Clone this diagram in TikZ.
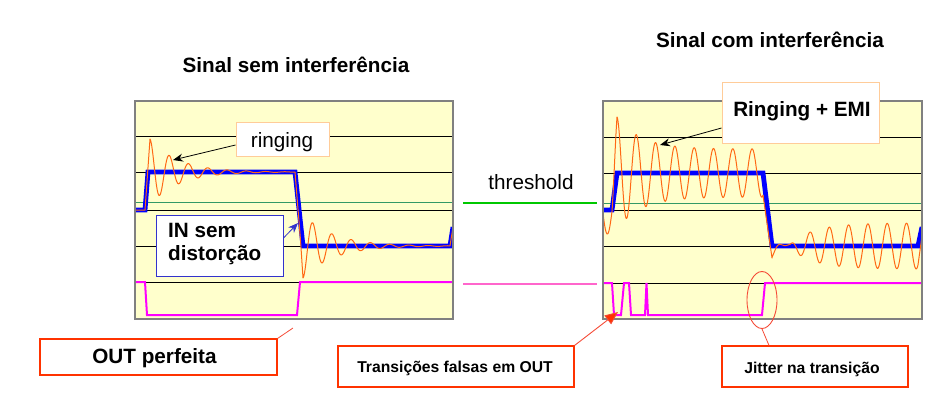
\documentclass[tikz,border=0pt]{standalone}
\usepackage{fontspec}
\setmainfont{Liberation Sans}
\usetikzlibrary{arrows.meta,shapes.geometric}
\definecolor{panelfill}{RGB}{255,255,204}
\definecolor{panelborder}{RGB}{128,128,128}
\definecolor{sigorange}{RGB}{255,105,20}
\definecolor{sigblue}{RGB}{0,0,255}
\definecolor{outpink}{RGB}{255,0,255}
\definecolor{thgreen}{RGB}{51,153,102}
\definecolor{brightgreen}{RGB}{0,200,0}
\definecolor{lightpink}{RGB}{255,102,204}
\definecolor{redbox}{RGB}{255,51,0}
\definecolor{peach}{RGB}{255,204,153}
\definecolor{inblue}{RGB}{51,51,204}
\definecolor{ellred}{RGB}{245,75,55}
\tikzset{
  panel/.style={fill=panelfill,draw=panelborder,line width=1.2pt},
  grid line/.style={black,line width=0.9pt},
  thline/.style={thgreen,line width=0.8pt},
  bluesig/.style={sigblue,line width=4.8pt,line join=miter},
  orangesig/.style={sigorange,line width=1pt,line join=round},
  pinksig/.style={outpink,line width=2pt,line join=miter},
  boxbase/.style={rectangle,fill=white,inner sep=0pt,line width=1pt},
  peachbox/.style={boxbase,draw=peach},
  redboxst/.style={boxbase,draw=redbox,line width=1.1pt},
  bigtxt/.style={font=\fontsize{20.7}{24}\selectfont,inner sep=0pt,anchor=base},
  bigbold/.style={font=\fontsize{20.7}{24}\selectfont\bfseries,inner sep=0pt,anchor=base},
  smallbold/.style={font=\fontsize{15.7}{18}\selectfont\bfseries,inner sep=0pt,anchor=base},
}
\begin{document}
\begin{tikzpicture}[x=1pt,y=-1pt]
\useasboundingbox (0,0) rectangle (945,405);

% titles
\node[bigbold] (t1) at (296,72) {Sinal sem interferência};
\node[bigbold] (t2) at (770,47) {Sinal com interferência};

% ---------- left panel ----------
\fill[panelfill] (135,101) rectangle (453,319);
\begin{scope}
\clip (135,101) rectangle (453,319);
\foreach \yy in {136,172,210,246,282} \draw[grid line] (135,\yy) -- (453,\yy);
\draw[thline] (135,202) -- (453,202);
\draw[pinksig] (135,282) -- (145,282) -- (147,315) -- (297,315) -- (300,282) -- (453,282);
\draw[bluesig] (135,210) -- (145,210) -- (148,172) -- (295,172) -- (303,246) -- (450,246) -- (453,227);
\draw[orangesig] (135,210) -- (145,210) -- (150,139)
  -- plot[domain=150:295,samples=300] (\x,{172-33*exp(-(\x-150)/28)*cos(18.6528*(\x-150))})
  -- (300.5,240) -- (303,278)
  -- plot[domain=303:450,samples=300] (\x,{246+32*exp(-(\x-303)/30)*cos(18.6528*(\x-303))})
  -- (453,227);
\end{scope}
\draw[panel,fill=none] (135,101) rectangle (453,319);

% ---------- right panel ----------
\fill[panelfill] (603,101) rectangle (922,319);
\begin{scope}
\clip (603,101) rectangle (922,319);
\foreach \yy in {137,173,210,246,283} \draw[grid line] (603,\yy) -- (922,\yy);
\draw[thline] (603,203) -- (922,203);
\draw[pinksig] (603,283) -- (612,283) -- (614,315) -- (621,315) -- (624,283) -- (629,283)
  -- (631,315) -- (645,315) -- (646.5,283) -- (648,315) -- (762,315) -- (765,283) -- (922,283);
\draw[bluesig] (603,210) -- (612,210) -- (617,173) -- (763,173) -- (772,246) -- (918,246) -- (922,227);
\draw[orangesig]
  plot[domain=603:612,samples=25] (\x,{210-24*cos(18.6528*(\x-617))})
  -- plot[domain=612:617,samples=15] (\x,{210-7.4*(\x-612)-(24+6.4*(\x-612))*cos(18.6528*(\x-617))})
  -- plot[domain=617:763,samples=450] (\x,{173-(24+32*exp(-(\x-617)/24))*cos(18.6528*(\x-617))})
  -- (772,258)
  -- plot[domain=772:918,samples=450] (\x,{246-(3+20*(1-exp(-max(0,\x-790)/25)))*cos(18.6528*(\x-617))+14*exp(-(\x-772)/8)*cos(18.6528*(\x-772))})
  -- (922,236);
\end{scope}
\draw[panel,fill=none] (603,101) rectangle (922,319);

% ---------- threshold legend ----------
\coordinate (g1) at (463,203);
\coordinate (g2) at (597,203);
\coordinate (p1) at (463,284);
\coordinate (p2) at (597,284);
\draw[brightgreen,line width=2pt] (g1) -- (g2);
\draw[lightpink,line width=2pt] (p1) -- (p2);
\node[bigtxt] (thr) at (531,189) {threshold};

% ---------- callout boxes ----------
\node[peachbox,minimum width=93pt,minimum height=34pt] (ringbox) at (282.5,139) {};
\node[bigtxt] (ringtxt) at (282,147) {ringing};
\draw[black,line width=0.8pt,-{Stealth[length=10pt,width=8pt]}] ([yshift=-6pt]ringbox.west) -- (173,160);

\node[boxbase,draw=inblue,minimum width=127pt,minimum height=61pt] (inbox) at (219.5,245.5) {};
\node[bigbold,anchor=base west] (intxt1) at (168,237) {IN sem};
\node[bigbold,anchor=base west] (intxt2) at (168,260) {distorção};
\draw[inblue,line width=0.8pt,-{Stealth[length=10pt,width=8pt]}] ([yshift=7.5pt]inbox.east) -- (298,223);

\node[peachbox,minimum width=157pt,minimum height=61pt] (emibox) at (800.5,112.5) {};
\node[bigbold] (emitxt) at (802,116) {Ringing + EMI};
\draw[black,line width=0.8pt,-{Stealth[length=10pt,width=8pt]}] ([yshift=-15.5pt]emibox.west) -- (660,145);

\node[redboxst,minimum width=237pt,minimum height=36pt] (outbox) at (158.5,357) {};
\node[bigbold] (outtxt) at (154.5,363) {OUT perfeita};
\coordinate (outend) at (293,328);
\draw[ellred,line width=0.8pt] (outbox.north east) -- (outend);

\node[redboxst,minimum width=236pt,minimum height=41pt] (falsbox) at (456,366.5) {};
\node[smallbold] (falstxt) at (455,372) {Transições falsas em OUT};
\draw[ellred,line width=0.9pt,-{Triangle[length=13pt,width=11pt,fill=redbox]}] (falsbox.north east) -- (618,312);

\node[redboxst,minimum width=186pt,minimum height=41pt] (jitbox) at (815,366.5) {};
\node[smallbold] (jittxt) at (812,373) {Jitter na transição};
\node[ellipse,draw=ellred,line width=0.9pt,minimum width=30pt,minimum height=57pt,inner sep=0pt] (jel) at (762,300) {};
\draw[ellred,line width=0.8pt] (jel.south) -- ([xshift=-46pt]jitbox.north);
\end{tikzpicture}
\end{document}
